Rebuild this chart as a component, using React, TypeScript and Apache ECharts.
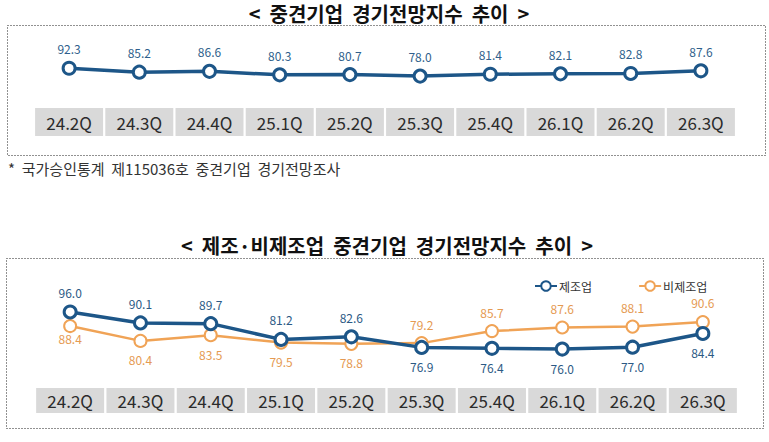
import React, { useEffect, useRef } from "react";
import * as echarts from "echarts";

// Quarter labels shared by both panels
const quarters = ["24.2Q", "24.3Q", "24.4Q", "25.1Q", "25.2Q", "25.3Q", "25.4Q", "26.1Q", "26.2Q", "26.3Q"];

// Overall mid-sized enterprise outlook index
const overallIndex = [92.3, 85.2, 86.6, 80.3, 80.7, 78.0, 81.4, 82.1, 82.8, 87.6];

// Manufacturing vs. non-manufacturing outlook index
const manufacturing = [96.0, 90.1, 89.7, 81.2, 82.6, 76.9, 76.4, 76.0, 77.0, 84.4];
const nonManufacturing = [88.4, 80.4, 83.5, 79.5, 78.8, 79.2, 85.7, 87.6, 88.1, 90.6];

const title1 = "<  중견기업  경기전망지수  추이  >";
const title2 = "<  제조·비제조업  중견기업  경기전망지수  추이  >";
const footnote = "*  국가승인통계  제115036호  중견기업  경기전망조사";

const BLUE = "#1d5688";
const ORANGE = "#f0a356";
const FONT = "'Noto Sans CJK KR', 'Noto Sans', sans-serif";

export default function App() {
  const ref = useRef<HTMLDivElement>(null);

  useEffect(() => {
    if (!ref.current) return;
    const chart = echarts.init(ref.current, null, { renderer: "svg" });

    const bandLabel = (h: number) => ({
      interval: 0,
      margin: 0,
      width: 68,
      height: h,
      lineHeight: h,
      backgroundColor: "#d9d9d9",
      color: "#2b2b2b",
      fontSize: 17,
      fontFamily: FONT,
      align: "center",
      verticalAlign: "top",
    });

    const hiddenY = (gridIndex: number, min: number, max: number) => ({
      type: "value",
      gridIndex,
      min,
      max,
      show: false,
      splitLine: { show: false },
    });

    const catX = (gridIndex: number, h: number) => ({
      type: "category",
      gridIndex,
      data: quarters,
      boundaryGap: true,
      axisLine: { show: false },
      axisTick: { show: false },
      splitLine: { show: false },
      axisLabel: bandLabel(h),
    });

    const option: any = {
      animation: false,
      backgroundColor: "#ffffff",
      textStyle: { fontFamily: FONT },
      graphic: [
        {
          type: "text",
          x: 389,
          y: 13,
          style: {
            text: title1,
            font: `bold 20px ${FONT}`,
            fill: "#111",
            align: "center",
            verticalAlign: "middle",
          },
        },
        {
          type: "rect",
          shape: { x: 7.5, y: 25.5, width: 758, height: 130 },
          style: { fill: "none", stroke: "#222", lineWidth: 1, lineDash: [1, 2] },
        },
        {
          type: "text",
          x: 8,
          y: 168,
          style: {
            text: footnote,
            font: `15px ${FONT}`,
            fill: "#333",
            verticalAlign: "middle",
          },
        },
        {
          type: "text",
          x: 387,
          y: 245,
          style: {
            text: title2,
            font: `bold 20px ${FONT}`,
            fill: "#111",
            align: "center",
            verticalAlign: "middle",
          },
        },
        {
          type: "rect",
          shape: { x: 6.5, y: 258.5, width: 757, height: 170 },
          style: { fill: "none", stroke: "#222", lineWidth: 1, lineDash: [1, 2] },
        },
      ],
      legend: {
        left: 529,
        top: 275,
        itemWidth: 22,
        itemHeight: 12,
        itemGap: 46,
        textStyle: { fontSize: 12, color: "#333", fontFamily: FONT, padding: [0, 0, 0, -3] },
        data: ["제조업", "비제조업"],
      },
      grid: [
        { left: 34, right: 33, top: 20, height: 88 },
        { left: 35, right: 31, top: 286, height: 102 },
      ],
      xAxis: [catX(0, 28), catX(1, 25)],
      yAxis: [hiddenY(0, 20, 180), hiddenY(1, 55, 110)],
      series: [
        {
          name: "중견기업",
          type: "line",
          xAxisIndex: 0,
          yAxisIndex: 0,
          data: overallIndex,
          symbol: "circle",
          symbolSize: 12,
          lineStyle: { color: BLUE, width: 3.5 },
          itemStyle: { color: "#fff", borderColor: BLUE, borderWidth: 3 },
          label: {
            show: true,
            position: "top",
            distance: 6,
            color: "#2f5f8c",
            fontSize: 12,
            fontFamily: FONT,
            formatter: (p: any) => Number(p.value).toFixed(1),
          },
        },
        {
          name: "비제조업",
          type: "line",
          xAxisIndex: 1,
          yAxisIndex: 1,
          data: nonManufacturing.map((v, i) => ({
            value: v,
            label: {
              position: v >= manufacturing[i] ? "top" : "bottom",
              offset: i === 0 ? [0, -7] : [0, 0],
            },
          })),
          symbol: "circle",
          symbolSize: 12,
          lineStyle: { color: ORANGE, width: 2.5 },
          itemStyle: { color: "#fff", borderColor: ORANGE, borderWidth: 2 },
          label: {
            show: true,
            distance: 6,
            color: "#e59a52",
            fontSize: 12,
            fontFamily: FONT,
            formatter: (p: any) => Number(p.value).toFixed(1),
          },
        },
        {
          name: "제조업",
          type: "line",
          xAxisIndex: 1,
          yAxisIndex: 1,
          data: manufacturing.map((v, i) => ({
            value: v,
            label: { position: v > nonManufacturing[i] ? "top" : "bottom" },
          })),
          symbol: "circle",
          symbolSize: 12,
          lineStyle: { color: BLUE, width: 3.5 },
          itemStyle: { color: "#fff", borderColor: BLUE, borderWidth: 3 },
          label: {
            show: true,
            distance: 6,
            color: "#2c5a85",
            fontSize: 12,
            fontFamily: FONT,
            formatter: (p: any) => Number(p.value).toFixed(1),
          },
        },
      ],
    };

    chart.setOption(option);
    return () => chart.dispose();
  }, []);

  return (
    <div
      ref={ref}
      style={{ position: "absolute", left: 0, top: 0, width: 769, height: 442 }}
    />
  );
}
